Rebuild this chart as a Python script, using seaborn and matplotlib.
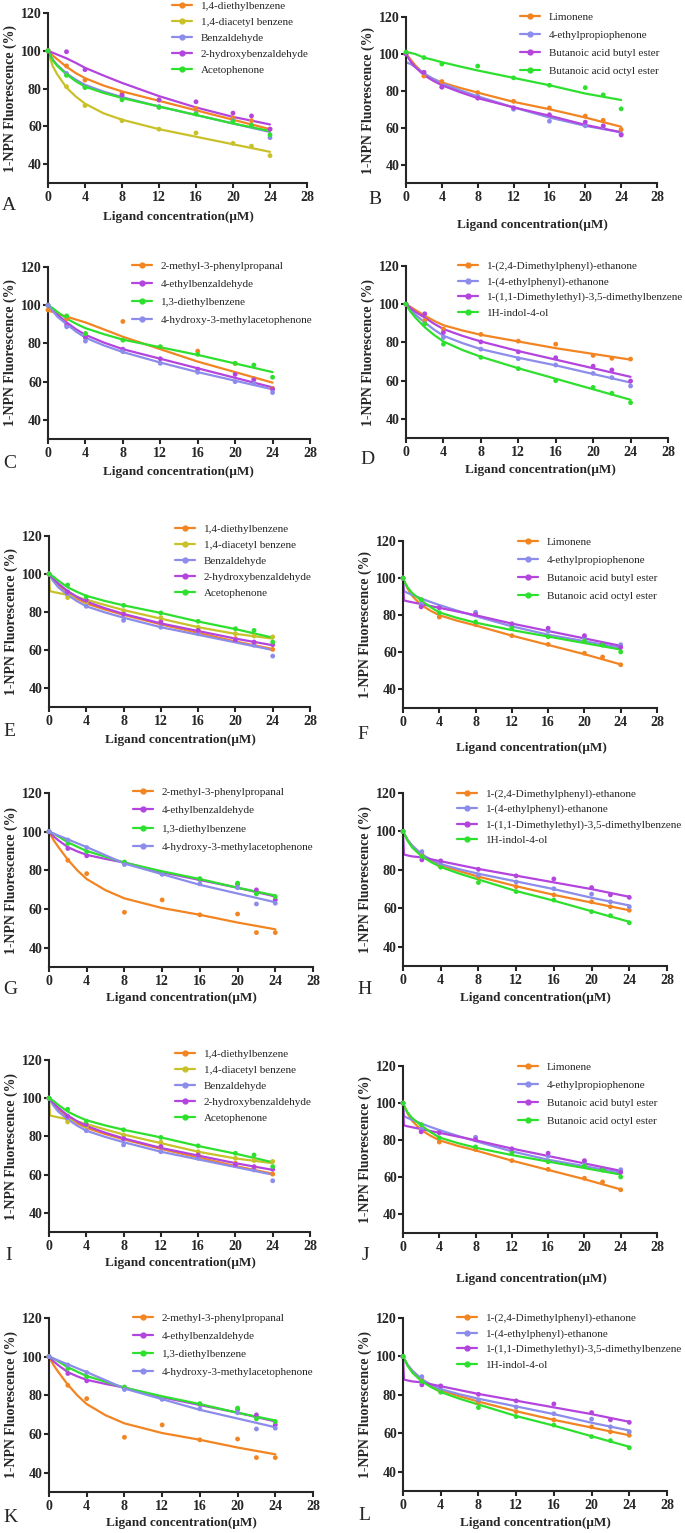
import numpy as np
import pandas as pd
import matplotlib
matplotlib.use("Agg")
import matplotlib.pyplot as plt
from matplotlib.lines import Line2D
import seaborn as sns

# measured concentrations and the x positions where the fitted curves were read
conc = [0, 2, 4, 8, 12, 16, 20, 22, 24]
fit_conc = [0, 0.1, 0.5, 1, 2, 3, 4, 6, 8, 12, 16, 20, 24]

names_1 = ["1,4-diethylbenzene", "1,4-diacetyl benzene", "Benzaldehyde",
           "2-hydroxybenzaldehyde", "Acetophenone"]
names_2 = ["Limonene", "4-ethylpropiophenone", "Butanoic acid butyl ester",
           "Butanoic acid octyl ester"]
names_3 = ["2-methyl-3-phenylpropanal", "4-ethylbenzaldehyde", "1,3-diethylbenzene",
           "4-hydroxy-3-methylacetophenone"]
names_4 = ["1-(2,4-Dimethylphenyl)-ethanone", "1-(4-ethylphenyl)-ethanone",
           "1-(1,1-Dimethylethyl)-3,5-dimethylbenzene", "1H-indol-4-ol"]

ORANGE, YELLOW, BLUE, PURPLE, GREEN = "#F28522", "#C9C12A", "#8C8CEB", "#B444DE", "#2EE02E"
colors_1 = [ORANGE, YELLOW, BLUE, PURPLE, GREEN]
colors_2 = [ORANGE, BLUE, PURPLE, GREEN]
colors_3 = [ORANGE, PURPLE, GREEN, BLUE]
colors_4 = [ORANGE, BLUE, PURPLE, GREEN]

# panel A
pts_a = [[100, 92, 84.5, 77.5, 74, 69.5, 64.5, 63, 58.5],
         [100, 81, 71, 63, 58.5, 56.5, 51, 49.5, 44.5],
         [100, 88, 81, 76, 70.5, 67, 63, 60.5, 54],
         [100, 99.5, 90, 76.5, 74, 73, 67, 65.5, 58.5],
         [100, 87, 80.5, 74, 70, 66.5, 62.5, 60.5, 55.5]]
fit_a = [[100, 99.5, 97.5, 95.5, 91.5, 88.2, 85.5, 81.6, 78.5, 73.5, 68.5, 63.5, 58.5],
         [100, 98, 92, 87.5, 80.5, 75.8, 72, 66.9, 63.5, 58.5, 54.5, 50.5, 46.5],
         [100, 99, 95.5, 92.5, 88, 84.7, 82, 78.4, 75.5, 70.5, 66, 61.5, 57],
         [100, 99.8, 99, 98, 96, 93.6, 91, 86.9, 83, 76, 70, 65, 61],
         [100, 99, 95, 92, 87.5, 83.9, 81, 77.7, 75, 70.5, 66, 61.5, 57.5]]

# panel B
pts_b = [[100, 88, 85, 79, 74.3, 70.7, 66.3, 64, 59],
         [100, 90, 82, 77, 70, 63.5, 61, 60.5, 56.5],
         [100, 90, 82, 76, 70.8, 67, 63, 61, 56],
         [101, 98, 94.5, 93.4, 87, 83, 81.7, 77.8, 70.2]]
fit_b = [[100, 99.5, 97, 94, 89, 86.5, 84.5, 81.6, 79, 74, 70, 65.5, 60.5],
         [95.5, 95.3, 94.5, 93, 89.5, 86.6, 84, 80.3, 77, 71, 65.5, 61, 57.5],
         [100, 99, 96, 93, 88.5, 85.5, 83, 79.3, 76, 71, 66.5, 61.5, 57.5],
         [101, 101, 100.5, 100, 98, 96.8, 95.5, 93.2, 91, 87, 83, 78.5, 75]]

# panel C
pts_c = [[97.5, 93, 85, 91.5, 78, 76, 69.5, 61.5, 56.5],
         [100, 89.6, 83, 77, 72, 66.6, 63.8, 61, 56],
         [100, 94.4, 85.2, 81.7, 78.3, 74.3, 69.6, 68.7, 62.3],
         [100, 88.7, 81.2, 75.7, 69.6, 64.9, 60, 59, 54.3]]
fit_c = [[97, 97, 96.5, 95.5, 94, 92.5, 91, 87.3, 83.5, 77, 70.5, 65, 59.5],
         [100, 99.5, 97.5, 95, 91, 87.4, 84.5, 80.4, 77, 72, 67, 62, 57],
         [100, 99.7, 98.5, 96.5, 93, 90.3, 88, 84.8, 82, 78, 74, 69.5, 65],
         [100, 99.5, 97, 94, 90, 86.2, 83, 78.9, 75.5, 70, 65, 60.5, 56]]

# panel D
pts_d = [[100, 91.5, 87, 84.2, 80.7, 79.1, 73.2, 71.7, 71.3],
         [100, 90, 82.6, 76.5, 71.5, 68.2, 63.8, 61.6, 57.2],
         [100, 95, 85.2, 80.3, 75.1, 72, 67.6, 65.6, 59.8],
         [100, 89.6, 79.1, 72.2, 66.3, 60, 56.5, 53.4, 48.5]]
fit_d = [[100, 99.7, 98.5, 97, 94, 91.3, 89, 86.3, 84, 80.5, 77, 74, 71],
         [100, 99.5, 97, 94.5, 90.5, 86.7, 83.5, 79.7, 76.5, 72, 68, 63.5, 59],
         [100, 99.7, 98, 96, 93, 89.8, 87, 83.5, 80.5, 75.5, 71, 66.5, 62],
         [100, 99, 96, 93, 88, 83.9, 80.5, 76.1, 72.5, 66.5, 61, 55.5, 50]]

# panel E (panel I shows the same data)
pts_e = [[100, 89, 85.3, 79, 74.7, 70.3, 66, 63.7, 60.3],
         [100, 87.6, 85.3, 80.7, 77, 72, 68.6, 67.4, 66.9],
         [100, 89.7, 83, 75.6, 72, 68.6, 65.1, 62.5, 56.8],
         [100, 90.6, 86.2, 78.8, 74.7, 70.3, 65.4, 64.2, 62.8],
         [100, 94.2, 88, 83.5, 79.5, 75.1, 71.2, 70.3, 64.2]]
fit_e = [[100, 99.5, 97, 94, 90, 87, 84.5, 81.3, 78.5, 73.5, 69, 64.5, 60.5],
         [100, 91, 90.5, 90, 89, 87.8, 86.5, 83.7, 81, 76.5, 72, 68.5, 66],
         [100, 99, 96, 93, 89, 85.7, 83, 79.8, 77, 72, 68, 64, 60],
         [100, 99.5, 97.5, 95, 91, 88, 85.5, 82, 79, 74, 70, 66, 62.5],
         [100, 99.7, 98.5, 96.5, 93, 90.6, 88.5, 85.8, 83.5, 79.5, 75, 71, 66.5]]

# panel F (panel J shows the same data)
pts_f = [[100, 86, 79, 75, 69, 64.3, 59.5, 57.5, 53.3],
         [100, 86, 84.5, 81.6, 75, 71.4, 68, 64.6, 64.1],
         [100, 84.5, 84, 80.4, 75.4, 73, 69, 64.6, 62.7],
         [100, 88.4, 81.3, 76.4, 73, 68.4, 66.1, 63.9, 60.2]]
fit_f = [[100, 99, 94.5, 90.5, 85.5, 82.5, 80, 77, 74.5, 69, 64, 59, 53.5],
         [100, 93, 92, 91, 89, 87.2, 85.5, 82.4, 79.5, 74, 69.5, 66, 62.5],
         [100, 88, 87.5, 87, 86, 85, 84, 82, 80, 75.5, 71.5, 67.5, 63.5],
         [100, 98.5, 95, 92, 88, 84.5, 81.5, 78.5, 76, 72, 68.5, 65, 61.5]]

# panel G (panel K shows the same data)
pts_g = [[100, 85.2, 78.3, 58.3, 64.7, 57, 57.4, 47.8, 47.8],
         [100, 91.3, 87.5, 84, 78.3, 75.3, 72.7, 69.9, 64.7],
         [100, 93.9, 89.6, 84.3, 78.6, 75.7, 73.4, 67.8, 66.4],
         [100, 95.7, 91.8, 83, 77.9, 73, 71, 62.6, 63]]
fit_g = [[100, 99, 95.5, 92, 85.5, 80, 75.5, 69.7, 65.5, 60.5, 57, 53, 49.5],
         [100, 99.5, 97.5, 95.5, 92, 89.8, 88, 85.9, 84, 79, 75, 71, 66.5],
         [100, 99.8, 99, 97.5, 94.5, 92.2, 90, 87, 84, 79.5, 75.5, 71, 67],
         [100, 99.8, 99, 98, 96, 94, 92, 87.8, 83.5, 78, 72.5, 68, 63.5]]

# panel H (panel L shows the same data)
pts_h = [[100, 88, 81.7, 76.2, 71.3, 67, 63.4, 60.8, 59],
         [100, 89.5, 83.1, 77.4, 73.7, 70.2, 67.4, 63.4, 60.8],
         [100, 85.2, 84.7, 80.3, 76.9, 75.3, 70.8, 67, 65.7],
         [100, 87, 81.4, 73.4, 68.7, 64.3, 58.3, 56.2, 52.5]]
fit_h = [[100, 99, 95.5, 92.5, 88, 85, 82.5, 79.3, 76.5, 71.5, 67, 63, 59],
         [100, 99, 95.5, 92.5, 88, 85.3, 83, 80.3, 78, 74, 70, 65.5, 61.5],
         [100, 88, 87.5, 87, 86.5, 85.5, 84.5, 82.5, 80.5, 77, 73.5, 70, 66],
         [100, 99, 95, 91.5, 87, 84, 81.5, 78, 75, 69, 64, 58.5, 53]]

letters = ["A", "B", "C", "D", "E", "F", "G", "H", "I", "J", "K", "L"]

sns.set_style("ticks")
plt.rcParams["font.family"] = ["Liberation Serif", "DejaVu Serif"]

W, H = 685, 1533
fig = plt.figure(figsize=(W / 100, H / 100), dpi=100)

# per panel: data, axes box (x0, x1, y_top, y_bottom px), legend (x, first row y, pitch),
# x label centre, letter position
panels = [
    (names_1, colors_1, pts_a, fit_a, (48, 307, 13, 183), (172, 6, 16.3), (178, 217), (2, 205)),
    (names_2, colors_2, pts_b, fit_b, (406, 657, 17, 183), (520, 17, 18.3), (532, 225), (368, 200)),
    (names_3, colors_3, pts_c, fit_c, (48, 310, 267, 439), (132, 266, 18.3), (178, 472), (3, 463)),
    (names_4, colors_4, pts_d, fit_d, (406, 668, 266, 438), (458, 266, 15.7), (540, 470), (360, 459)),
    (names_1, colors_1, pts_e, fit_e, (49, 310, 536, 707), (175, 529, 16.3), (180, 740), (3, 732)),
    (names_2, colors_2, pts_f, fit_f, (403, 657, 541, 708), (518, 542, 18.3), (531, 748), (357, 735)),
    (names_3, colors_3, pts_g, fit_g, (49, 313, 793, 967), (133, 792, 18.7), (181, 998), (3, 990)),
    (names_4, colors_4, pts_h, fit_h, (403, 667, 793, 966), (457, 794, 15.3), (535, 998), (357, 990)),
    (names_1, colors_1, pts_e, fit_e, (49, 310, 1060, 1232), (175, 1054, 16.3), (180, 1263), (5, 1255)),
    (names_2, colors_2, pts_f, fit_f, (403, 657, 1066, 1233), (518, 1067, 18.3), (531, 1279), (362, 1255)),
    (names_3, colors_3, pts_g, fit_g, (49, 313, 1318, 1492), (133, 1318, 18.3), (181, 1523), (3, 1517)),
    (names_4, colors_4, pts_h, fit_h, (403, 667, 1318, 1491), (457, 1318, 15.7), (535, 1523), (358, 1515)),
]

LEG_FS = 8
FS_PX = LEG_FS * 100 / 72
TEXT_H = 10.0  # rendered height of one legend row, px

for letter, (names, cols, pts, fits, box, leg, xl, lt) in zip(letters, panels):
    x0, x1, yt, yb = box
    ax = fig.add_axes([x0 / W, 1 - yb / H, (x1 - x0) / W, (yb - yt) / H])
    pal = dict(zip(names, cols))

    fit_df = pd.DataFrame({"name": np.repeat(names, len(fit_conc)),
                           "x": np.tile(fit_conc, len(names)),
                           "y": np.concatenate(fits)})
    pts_df = pd.DataFrame({"name": np.repeat(names, len(conc)),
                           "x": np.tile(conc, len(names)),
                           "y": np.concatenate(pts)})

    sns.lineplot(data=fit_df, x="x", y="y", hue="name", palette=pal, hue_order=names,
                 estimator=None, sort=False, lw=1.6, legend=False, ax=ax, clip_on=False)
    sns.scatterplot(data=pts_df, x="x", y="y", hue="name", palette=pal, hue_order=names,
                    s=12, linewidth=0, legend=False, ax=ax, clip_on=False, zorder=3)

    ax.set_xlim(0, 28)
    ax.set_ylim(30, 120)
    ax.set_xticks(range(0, 29, 4))
    ax.set_yticks(range(40, 121, 20))
    ax.set_xlabel("")
    ax.set_ylabel("1-NPN Fluorescence (%)", fontsize=10, fontweight="bold", labelpad=3)
    for s in ["top", "right"]:
        ax.spines[s].set_visible(False)
    for s in ["left", "bottom"]:
        ax.spines[s].set_linewidth(1.5)
    ax.tick_params(axis="both", direction="out", length=3.5, width=1.5, labelsize=10)
    ax.tick_params(axis="y", pad=1)
    ax.tick_params(axis="x", pad=2)
    for t in ax.get_xticklabels() + ax.get_yticklabels():
        t.set_fontweight("bold")

    handles = [Line2D([], [], color=c, lw=1.6, marker="o", ms=3.5) for c in cols]
    lx, ly, pitch = leg
    ax.legend(handles, names, loc="upper left", frameon=False, fontsize=LEG_FS,
              bbox_to_anchor=(lx / W, 1 - (ly - TEXT_H / 2) / H),
              bbox_transform=fig.transFigure, borderpad=0, borderaxespad=0,
              handlelength=1.8, handletextpad=0.8, numpoints=1,
              labelspacing=(pitch - TEXT_H) / FS_PX)

    fig.text(xl[0] / W, 1 - xl[1] / H, "Ligand concentration(\u03bcM)", ha="center",
             va="center", fontsize=9.5, fontweight="bold")
    fig.text(lt[0] / W, 1 - lt[1] / H, letter, ha="left", va="center", fontsize=14)

fig.savefig("out.png", dpi=100, facecolor="white")
